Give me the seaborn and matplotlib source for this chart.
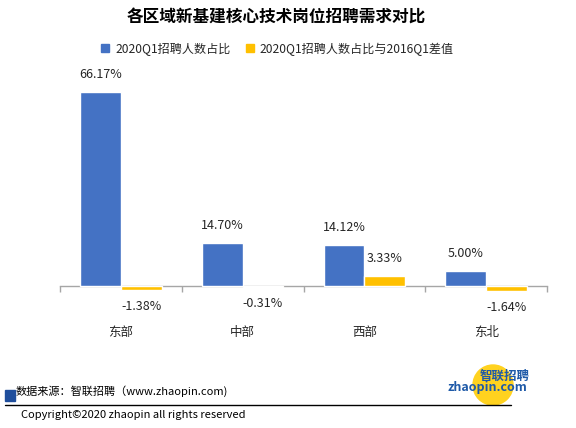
import pandas as pd
import numpy as np
import matplotlib
matplotlib.use("Agg")
import matplotlib.pyplot as plt
from matplotlib.patches import Rectangle, Ellipse
from matplotlib.lines import Line2D
import seaborn as sns

regions = ["东部", "中部", "西部", "东北"]
share_2020 = [66.17, 14.70, 14.12, 5.00]
diff_vs_2016 = [-1.38, -0.31, 3.33, -1.64]
series_names = ["2020Q1招聘人数占比", "2020Q1招聘人数占比与2016Q1差值"]
title = "各区域新基建核心技术岗位招聘需求对比"
source_text = "数据来源：智联招聘（www.zhaopin.com)"
copyright_text = "Copyright©2020 zhaopin all rights reserved"

df = pd.DataFrame({
    "区域": regions * 2,
    "系列": [series_names[0]] * 4 + [series_names[1]] * 4,
    "值": share_2020 + diff_vs_2016,
})

sns.set_theme(style="white")
plt.rcParams["font.family"] = ["Noto Sans CJK SC", "DejaVu Sans"]

blue = "#4472C4"
yellow = "#FFC000"
txt = "#262626"

fig = plt.figure(figsize=(5.76, 4.28), dpi=100)
ax = fig.add_axes([0.1042, 0.2757, 0.8455, 0.5374])

sns.barplot(data=df, x="区域", y="值", hue="系列", palette=[blue, yellow],
            width=0.67, gap=0, ax=ax, legend=False, saturation=1)

ax.set_xlim(-0.5, 3.5)
ax.set_ylim(-8.19, 70.3)
ax.set_xlabel("")
ax.set_ylabel("")
ax.set_yticks([])
for s in ["top", "right", "left"]:
    ax.spines[s].set_visible(False)
ax.spines["bottom"].set_position(("data", 0))
ax.spines["bottom"].set_color("#A6A6A6")
ax.spines["bottom"].set_linewidth(1)
ax.spines["bottom"].set_zorder(0.5)
ax.set_xticks(np.arange(-0.5, 4, 1), minor=True)
ax.tick_params(axis="x", which="minor", length=4, color="#A6A6A6", direction="out", bottom=True)
ax.tick_params(axis="x", which="major", length=0, pad=29, labelsize=9, labelcolor=txt)

for cont in ax.containers:
    for bar in cont:
        bar.set_zorder(2)
        h = bar.get_height()
        x = bar.get_x() + bar.get_width() / 2
        lab = f"{h:.2f}%"
        if h >= 0:
            ax.annotate(lab, (x, h), xytext=(0, 8), textcoords="offset points",
                        ha="center", va="bottom", fontsize=9, color=txt)
        else:
            ax.annotate(lab, (x, h), xytext=(0, -7), textcoords="offset points",
                        ha="center", va="top", fontsize=9, color=txt)

fig.text(0.48, 1 - 18 / 428, title, ha="center", va="center",
         fontsize=12, fontweight="bold", color="black")

handles = [Line2D([], [], marker="s", linestyle="", markersize=6, color=c) for c in [blue, yellow]]
fig.legend(handles, series_names, loc="center", bbox_to_anchor=(0.48, 1 - 49 / 428),
           ncol=2, frameon=False, fontsize=8.7, handletextpad=0.3, columnspacing=1.1,
           handlelength=1, labelcolor=txt)

# footer
fig.patches.append(Rectangle((5 / 576, 1 - 401 / 428), 10 / 576, 11 / 428,
                             transform=fig.transFigure, color="#1F4E9C"))
fig.text(16 / 576, 1 - 391 / 428, source_text, ha="left", va="center", fontsize=8, color="black")
fig.lines.append(Line2D([5 / 576, 511 / 576], [1 - 405 / 428] * 2,
                        transform=fig.transFigure, color="black", linewidth=1))
fig.text(21 / 576, 1 - 415 / 428, copyright_text, ha="left", va="center", fontsize=8, color="black")

# logo
fig.patches.append(Ellipse((493 / 576, 1 - 385 / 428), 40 / 576, 40 / 428,
                           transform=fig.transFigure, color="#FFD21F", zorder=1))
fig.text(505 / 576, 1 - 376 / 428, "智联招聘", ha="center", va="center", fontsize=9,
         color="#1F5AA8", fontweight="bold", zorder=2)
fig.text(487 / 576, 1 - 388 / 428, "zhaopin.com", ha="center", va="center", fontsize=9,
         color="#1F5AA8", fontweight="bold", style="italic", zorder=2)

fig.savefig("out.png", dpi=100)
